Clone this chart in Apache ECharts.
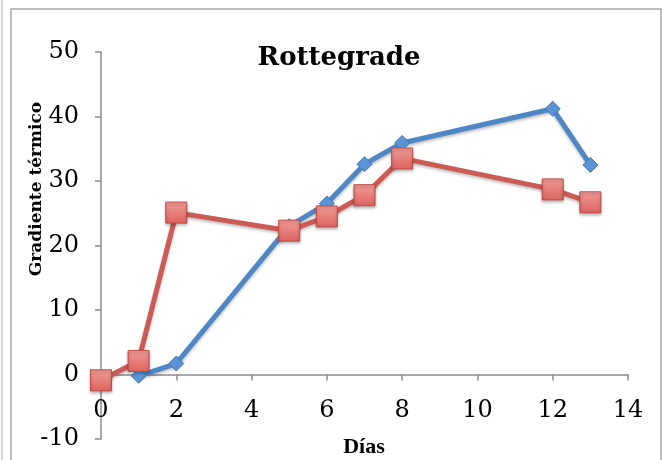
<!DOCTYPE html>
<html>
<head>
<meta charset="utf-8">
<script src="https://cdn.jsdelivr.net/npm/echarts@6/dist/echarts.min.js"></script>
<style>html,body{margin:0;padding:0;background:#fff;}#c{width:662px;height:460px;}</style>
</head>
<body>
<div id="c"></div>
<script>
var titleText = 'Rottegrade';
var xName = 'Días';
var yName = 'Gradiente térmico';
var blueDays = [1, 2, 5, 6, 7, 8, 12, 13];
var blueValues = [-0.2, 1.7, 23.0, 26.5, 32.6, 35.9, 41.2, 32.5];
var redDays = [0, 1, 2, 5, 6, 7, 8, 12, 13];
var redValues = [-0.9, 2.1, 25.1, 22.3, 24.5, 27.8, 33.5, 28.7, 26.7];

function pairs(xs, ys) { return xs.map(function (x, i) { return [x, ys[i]]; }); }

var serif = 'DejaVu Serif';
var gridTop = 52, gridBottom = 21, H = 460;
var yMin = -10, yMax = 50;
// shift the x axis up from the grid bottom to the value 0
var zeroOffset = -((0 - yMin) / (yMax - yMin)) * (H - gridTop - gridBottom);

var chart = echarts.init(document.getElementById('c'));
chart.setOption({
  animation: false,
  backgroundColor: '#ffffff',
  title: {
    text: titleText, left: 334, top: 40, textAlign: 'center',
    textStyle: { fontFamily: serif, fontWeight: 'bold', fontSize: 26, color: '#000' }
  },
  grid: { left: 101, right: 34, top: gridTop, bottom: gridBottom, containLabel: false, outerBoundsMode: 'none' },
  xAxis: {
    type: 'value', min: 0, max: 14, interval: 2, position: 'bottom', offset: zeroOffset,
    axisLine: { onZero: false, lineStyle: { color: '#8c8c8c', width: 1.5 } },
    axisTick: { show: true, inside: false, length: 6, lineStyle: { color: '#8c8c8c', width: 1.5 } },
    axisLabel: { margin: 24, fontFamily: serif, fontSize: 24, color: '#000' },
    splitLine: { show: false }
  },
  yAxis: {
    type: 'value', min: yMin, max: yMax, interval: 10,
    axisLine: { show: true, lineStyle: { color: '#8c8c8c', width: 1.5 } },
    axisTick: { show: true, inside: false, length: 6, lineStyle: { color: '#8c8c8c', width: 1.5 } },
    axisLabel: { margin: 22, fontFamily: serif, fontSize: 24, color: '#000' },
    splitLine: { show: false }
  },
  graphic: [
    { type: 'rect', shape: { x: 11, y: 9, width: 650, height: 470 }, style: { fill: 'none', stroke: '#a6a6a6', lineWidth: 1.5 }, silent: true, z: -1 },
    { type: 'line', shape: { x1: 2, y1: 0, x2: 2, y2: 460 }, style: { stroke: '#c8c8c8', lineWidth: 1.5 }, silent: true, z: -1 },
    { type: 'text', x: 37, y: 189, rotation: Math.PI / 2,
      style: { text: yName, fontFamily: serif, fontWeight: 'bold', fontSize: 17, fill: '#000', textAlign: 'center', textVerticalAlign: 'middle' } },
    { type: 'text', x: 364, y: 447,
      style: { text: xName, fontFamily: 'Liberation Serif', fontWeight: 'bold', fontSize: 22, fill: '#000', textAlign: 'center', textVerticalAlign: 'middle' } }
  ],
  series: [
    {
      type: 'line', data: pairs(blueDays, blueValues), z: 2,
      symbol: 'diamond', symbolSize: 15,
      lineStyle: { color: '#4f86c6', width: 5, shadowColor: 'rgba(0,0,0,0.25)', shadowBlur: 3, shadowOffsetY: 2 },
      itemStyle: { color: '#5b93d6', borderColor: '#4577b5', borderWidth: 1 }
    },
    {
      type: 'line', data: pairs(redDays, redValues), z: 3,
      symbol: 'rect', symbolSize: 21,
      lineStyle: { color: '#cc5a55', width: 5, shadowColor: 'rgba(0,0,0,0.25)', shadowBlur: 3, shadowOffsetY: 2 },
      itemStyle: {
        color: new echarts.graphic.LinearGradient(0, 0, 0, 1, [{ offset: 0, color: '#f29d98' }, { offset: 1, color: '#dc625d' }]),
        borderColor: '#be4b48', borderWidth: 1,
        shadowColor: 'rgba(0,0,0,0.3)', shadowBlur: 3, shadowOffsetY: 2
      }
    }
  ]
});
</script>
</body>
</html>
